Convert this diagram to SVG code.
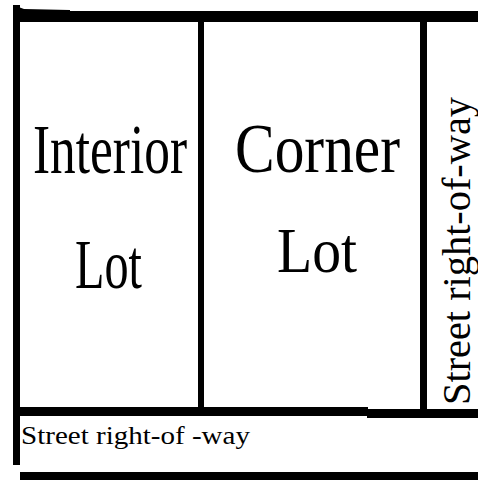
<svg xmlns="http://www.w3.org/2000/svg" width="478" height="480" viewBox="0 0 478 480">
<style>
.bar{fill:#000}
.lbl{font-family:'Liberation Serif','Times New Roman',serif;fill:#000;text-anchor:middle;font-size:50px}
.st{font-family:'Liberation Serif','Times New Roman',serif;fill:#000}
</style>
<rect x="0" y="0" width="478" height="480" fill="#fff"/>
<g id="lines">
<rect class="bar" x="13" y="11" width="465" height="11"/>
<rect class="bar" x="13" y="5" width="7" height="460"/>
<path class="bar" d="M13 5 L24 9 L70 10 L70 12 L13 12 Z"/>
<rect class="bar" x="198" y="20" width="6" height="390"/>
<rect class="bar" x="420" y="20" width="7" height="392"/>
<rect class="bar" x="20" y="407" width="348" height="9"/>
<rect class="bar" x="367" y="409" width="111" height="9"/>
<rect class="bar" x="20" y="472" width="458" height="8"/>
</g>
<g id="interior-lot">
<text class="lbl" transform="translate(110,173) scale(1,1.38)" textLength="154" lengthAdjust="spacingAndGlyphs">Interior</text>
<text class="lbl" transform="translate(108.5,288) scale(1,1.38)" textLength="67" lengthAdjust="spacingAndGlyphs">Lot</text>
</g>
<g id="corner-lot">
<text class="lbl" transform="translate(317.5,172) scale(1,1.38)" textLength="165" lengthAdjust="spacingAndGlyphs">Corner</text>
<text class="lbl" transform="translate(317,272) scale(1,1.25)" textLength="80" lengthAdjust="spacingAndGlyphs">Lot</text>
</g>
<g id="street-side">
<text class="st" font-size="40" transform="translate(470,405) rotate(-90)" textLength="308" lengthAdjust="spacingAndGlyphs">Street right-of-way</text>
</g>
<g id="street-bottom">
<text class="st" font-size="24" transform="translate(21,444) scale(1,1.05)" textLength="229" lengthAdjust="spacingAndGlyphs">Street right-of -way</text>
</g>
</svg>
